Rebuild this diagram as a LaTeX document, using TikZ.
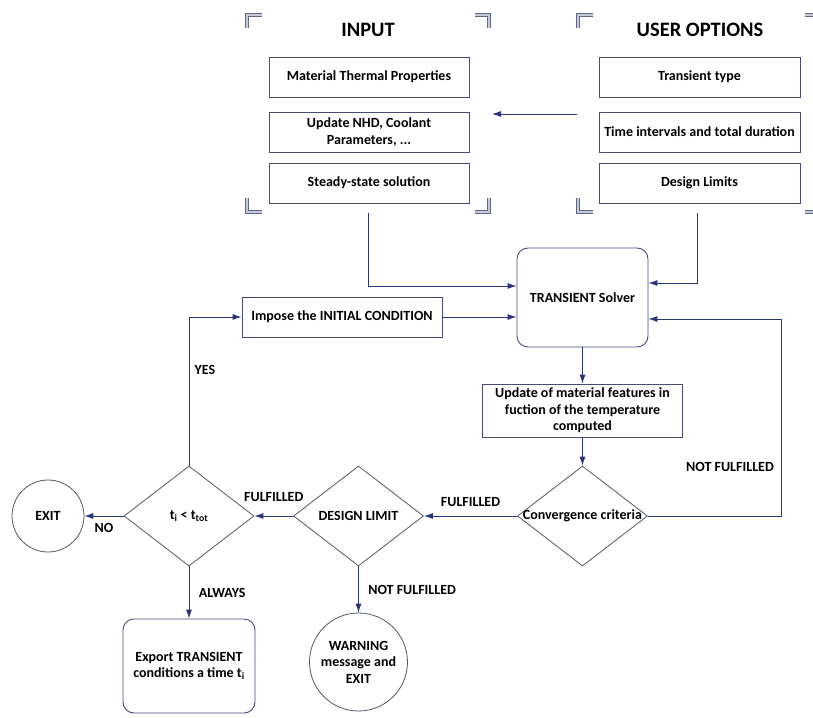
\documentclass[tikz,border=0pt]{standalone}
\usepackage{fontspec}
\setmainfont{Carlito}
\usetikzlibrary{arrows.meta,shapes.geometric}
\definecolor{boxline}{HTML}{464C7A}
\definecolor{flow}{HTML}{2A3478}
\definecolor{shapeline}{HTML}{55586A}
\definecolor{bracket}{HTML}{5F6788}

\begin{document}
\begin{tikzpicture}[x=1pt, y=-1pt, font=\bfseries\fontsize{14}{16.5}\selectfont,
  stepbox/.style={draw=boxline, line width=.9pt, minimum width=200pt, minimum height=40pt, inner sep=0pt, align=center},
  roundbox/.style={stepbox, rounded corners=11pt},
  decision/.style={diamond, draw=shapeline, line width=.8pt, minimum width=130pt, minimum height=100pt, inner sep=0pt},
  endpoint/.style={circle, draw=shapeline, line width=.8pt, inner sep=0pt, align=center},
  flowline/.style={draw=flow, line width=.9pt, -{Latex[length=9pt,width=6pt]}},
  corner/.style={draw=bracket, line width=1.1pt, double=bracket!35, double distance=1.1pt},
  heading/.style={font=\bfseries\fontsize{20.5}{24}\selectfont}]
  \useasboundingbox (0,0) rectangle (813,717);
  \fill[white] (0,0) rectangle (813,717);
  \clip (0,0) rectangle (813,717);

  \foreach \cx/\cy/\dx/\dy in {247/15/15/13, 489/15/-14/13, 247/212/15/-14, 489/212/-14/-14,
                               578/15/15/13, 820/15/-15/13, 578/212/15/-14, 820/212/-15/-14} {
    \draw[corner] (\cx+\dx,\cy) -- (\cx,\cy) -- (\cx,\cy+\dy);
  }

  \node[heading] (inputtitle) at (368,30) {INPUT};
  \node[heading] (usertitle) at (700,30) {USER OPTIONS};

  \node[stepbox] (matprop) at (369,77) {Material Thermal Properties};
  \node[stepbox] (nhd) at (369,132) {Update NHD, Coolant\\Parameters, ...};
  \node[stepbox] (steady) at (369,183) {Steady-state solution};
  \node[stepbox, minimum width=201pt] (ttype) at (699.5,77) {Transient type};
  \node[stepbox, minimum width=201pt] (tint) at (699.5,132) {Time intervals and total duration};
  \node[stepbox, minimum width=201pt] (dlimits) at (699.5,183) {Design Limits};

  \coordinate (usergrp) at (577,114);
  \coordinate (inputgrp) at (492,114);
  \coordinate (inputbot) at (368,213);
  \coordinate (userbot) at (697,213);
  \coordinate (retour) at (781,319);

  \node[roundbox, minimum width=131pt, minimum height=99pt] (solver) at (582.5,297.5) {TRANSIENT Solver};
  \node[stepbox] (impose) at (342,317) {Impose the INITIAL CONDITION};
  \node[stepbox, minimum height=53pt] (update) at (582.5,410.5) {Update of material features in\\fuction of the temperature\\computed};

  \node[decision] (conv) at (582.5,516) {\makebox[0pt]{Convergence criteria}};
  \node[decision] (dlimit) at (358.5,516) {\makebox[0pt]{DESIGN LIMIT}};
  \node[decision] (tcheck) at (189,516) {\makebox[0pt]{t\textsubscript{i} < t\textsubscript{tot}}};
  \node[endpoint, minimum size=72pt] (exit) at (48,516) {EXIT};
  \node[endpoint, minimum size=98pt] (warn) at (358.5,662) {WARNING\\message and\\EXIT};
  \node[roundbox, minimum width=132pt, minimum height=94pt] (export) at (189,666) {Export TRANSIENT\\conditions a time t\textsubscript{i}};

  \draw[flowline] (usergrp) -- (inputgrp);
  \draw[flowline] (inputbot) |- ([yshift=11.5pt]solver.west);
  \draw[flowline] (userbot) |- ([yshift=14.5pt]solver.east);
  \draw[flowline] (impose) -- (impose -| solver.west);
  \draw[flowline] (solver) -- (update);
  \draw[flowline] (update) -- (conv);
  \draw[flowline] (conv.east) -| (retour) -- (retour -| solver.east);
  \node (nfconv) at (730,467) {NOT FULFILLED};
  \draw[flowline] (conv) -- (dlimit) node[midway, above=6pt] (fulconv) {FULFILLED};
  \draw[flowline] (dlimit) -- (tcheck) node[midway, above=11pt] (fullimit) {FULFILLED};
  \draw[flowline] (tcheck) -- (exit) node[midway, below=4pt] (nolbl) {NO};
  \draw[flowline] (tcheck.north) |- (impose.west);
  \node (yeslbl) at (205,370) {YES};
  \draw[flowline] (tcheck) -- (export) node[midway, right=6pt] (alwayslbl) {ALWAYS};
  \draw[flowline] (dlimit) -- (warn) node[midway, right=6pt] (nflimit) {NOT FULFILLED};
\end{tikzpicture}
\end{document}
